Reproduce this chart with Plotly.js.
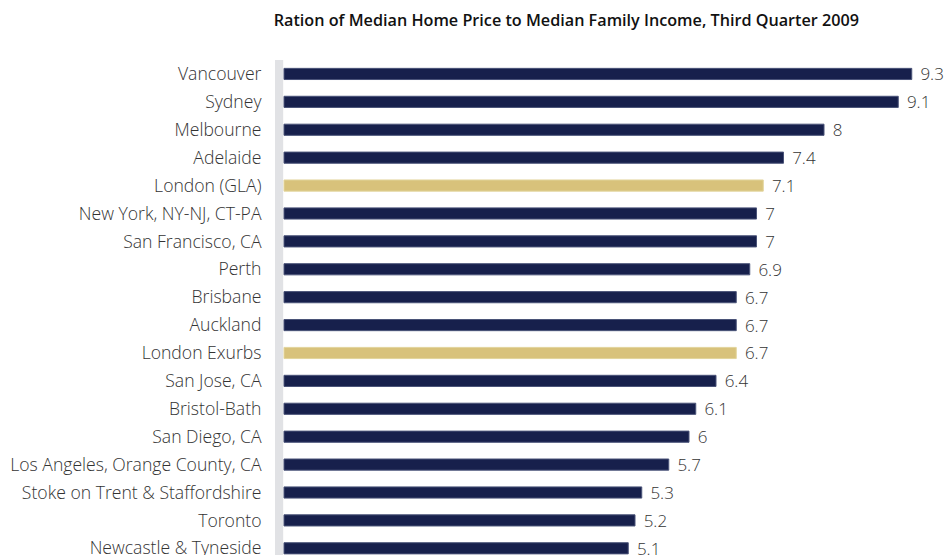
<!DOCTYPE html>
<html><head><meta charset="utf-8">
<script src="https://cdn.plot.ly/plotly-3.0.1.min.js"></script>
<style>html,body{margin:0;padding:0;overflow:hidden;background:#fff}</style>
</head><body><div id="chart" style="width:944px;height:555px"></div>
<script>
const cities = ["Vancouver","Sydney","Melbourne","Adelaide","London (GLA)","New York, NY-NJ, CT-PA","San Francisco, CA","Perth","Brisbane","Auckland","London Exurbs","San Jose, CA","Bristol-Bath","San Diego, CA","Los Angeles, Orange County, CA","Stoke on Trent & Staffordshire","Toronto","Newcastle & Tyneside"];
const ratios = [9.3,9.1,8,7.4,7.1,7,7,6.9,6.7,6.7,6.7,6.4,6.1,6,5.7,5.3,5.2,5.1];
const highlighted = ["London (GLA)","London Exurbs"];
const navy = "#17204c", gold = "#d8c27b";
const colors = cities.map(c => highlighted.includes(c) ? gold : navy);
const lines = cities.map(c => highlighted.includes(c) ? "#e2d49c" : "#4a5378");
const FONT = "'Open Sans', sans-serif";

const trace = {
  type: "bar", orientation: "h",
  y: cities, x: ratios,
  marker: {color: colors, line: {color: lines, width: 1}},
  text: ratios.map(v => String(v)),
  texttemplate: "\u2004%{text}",
  textposition: "outside",
  constraintext: "none",
  cliponaxis: false,
  textfont: {family: FONT, size: 17, color: "#333", weight: 300},
  hoverinfo: "none"
};
const layout = {
  width: 944, height: 555,
  margin: {l: 275, r: 12, t: 60, b: 0},
  paper_bgcolor: "#fff", plot_bgcolor: "#fff",
  bargap: 0.6,
  showlegend: false,
  title: {text: "Ration of Median Home Price to Median Family Income, Third Quarter 2009",
          font: {family: FONT, size: 16.2, color: "#111", weight: 600},
          x: 0.6, xanchor: "center", y: 0.963, yanchor: "middle"},
  xaxis: {range: [-0.1333, 9.6], visible: false, fixedrange: true},
  yaxis: {autorange: false, range: [17.24, -0.5], showgrid: false, zeroline: false, showline: false,
          ticks: "outside", ticklen: 0, ticklabelstandoff: 9,
          tickfont: {family: FONT, size: 17.6, color: "#333", weight: 300}},
  shapes: [{type: "rect", xref: "x", yref: "paper", x0: -0.1333, x1: -0.012, y0: 0, y1: 1,
            fillcolor: "#e1e2e5", line: {width: 0}, layer: "below"}]
};
Plotly.newPlot("chart", [trace], layout, {displayModeBar: false, staticPlot: true});
</script></body></html>
